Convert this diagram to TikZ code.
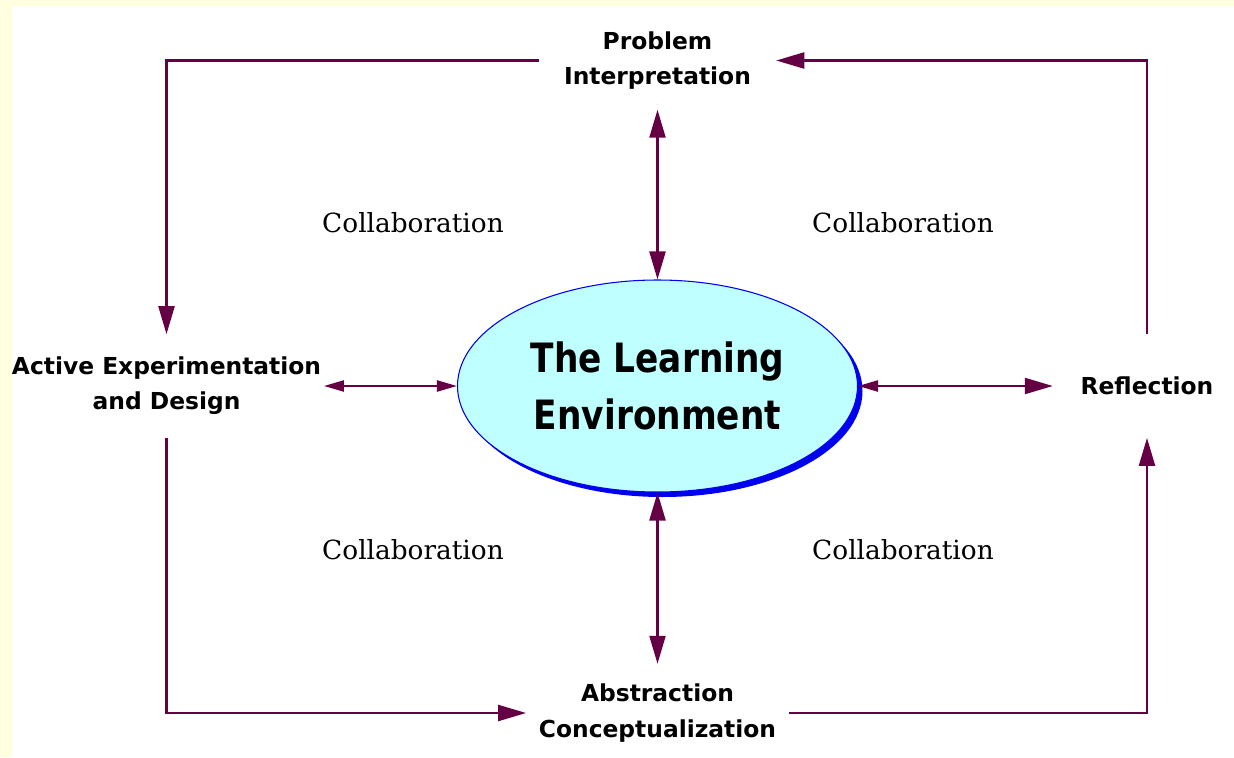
\documentclass[tikz,border=0pt]{standalone}
\usepackage{fontspec}
\newfontfamily\boxfont{DejaVu Sans}
\newfontfamily\notefont{DejaVu Serif}
\newfontfamily\titlefont{DejaVu Sans}[FakeStretch=0.85]
\usetikzlibrary{arrows.meta}
\usetikzlibrary{shapes.geometric}
\usetikzlibrary{shadows}

\definecolor{loopred}{RGB}{102,0,68}
\definecolor{paleyellow}{RGB}{255,255,224}
\definecolor{envcyan}{RGB}{192,255,255}
\definecolor{envblue}{RGB}{0,0,240}

\tikzset{
	bigtip/.tip={Triangle[length=0.56cm,width=0.32cm]},
	smalltip/.tip={Triangle[length=0.4cm,width=0.22cm]},
	stage/.style={font=\boxfont\bfseries\fontsize{13.3}{20}\selectfont, align=center, inner xsep=0.5cm, inner ysep=0.4cm},
	collab/.style={font=\notefont\fontsize{15}{18}\selectfont},
	cycle/.style={draw=loopred, line width=0.045cm},
}

\begin{document}
\begin{tikzpicture}[]

	% page: pale yellow strip on top and left, white sheet
	\useasboundingbox (0,0) rectangle (24.68,15.14);
	\fill[paleyellow] (0,0) rectangle (24.68,15.14);
	\fill[white] (0.24,0) rectangle (24.68,15.02);

	% the environment in the middle
	\node[ellipse, draw=envblue, fill=envcyan, line width=0.6pt, minimum width=8cm, minimum height=4.24cm, inner sep=0pt,
		drop shadow={shadow xshift=0.1cm, shadow yshift=-0.1cm, fill=envblue, opacity=1},
		font=\titlefont\bfseries\fontsize{23}{32}\selectfont, align=center] (env) at (13.15,7.42) {The Learning\\Environment};

	% the four stages round it
	\node[stage] (prob) at (13.15,13.93) {Problem\\Interpretation};
	\node[stage, inner xsep=0.05cm, inner ysep=0.45cm] (active) at (3.33,7.42) {Active Experimentation\\and Design};
	\node[stage, inner xsep=0.55cm, inner ysep=0.85cm] (refl) at (22.94,7.42) {Reflection};
	\node[stage, inner xsep=0.25cm] (abstr) at (13.15,0.88) {Abstraction\\Conceptualization};

	% collaboration in each quarter
	\node[collab] (collabnw) at (8.26,10.68) {Collaboration};
	\node[collab] (collabne) at (18.06,10.68) {Collaboration};
	\node[collab] (collabsw) at (8.26,4.14) {Collaboration};
	\node[collab] (collabse) at (18.06,4.14) {Collaboration};

	% spokes between the environment and the stages
	\draw[cycle, bigtip-bigtip] (prob) -- (env);
	\draw[cycle, bigtip-bigtip] (env) -- (abstr);
	\draw[cycle, smalltip-smalltip] (active) -- (env);
	\draw[cycle, smalltip-bigtip] (env) -- (refl);

	% the outer cycle
	\draw[cycle, -bigtip] (prob.west) -| (active.north);
	\draw[cycle, -bigtip] (active.south) |- (abstr.west);
	\draw[cycle, -bigtip] (abstr.east) -| (refl.south);
	\draw[cycle, -bigtip] (refl.north) |- (prob.east);

\end{tikzpicture}
\end{document}
